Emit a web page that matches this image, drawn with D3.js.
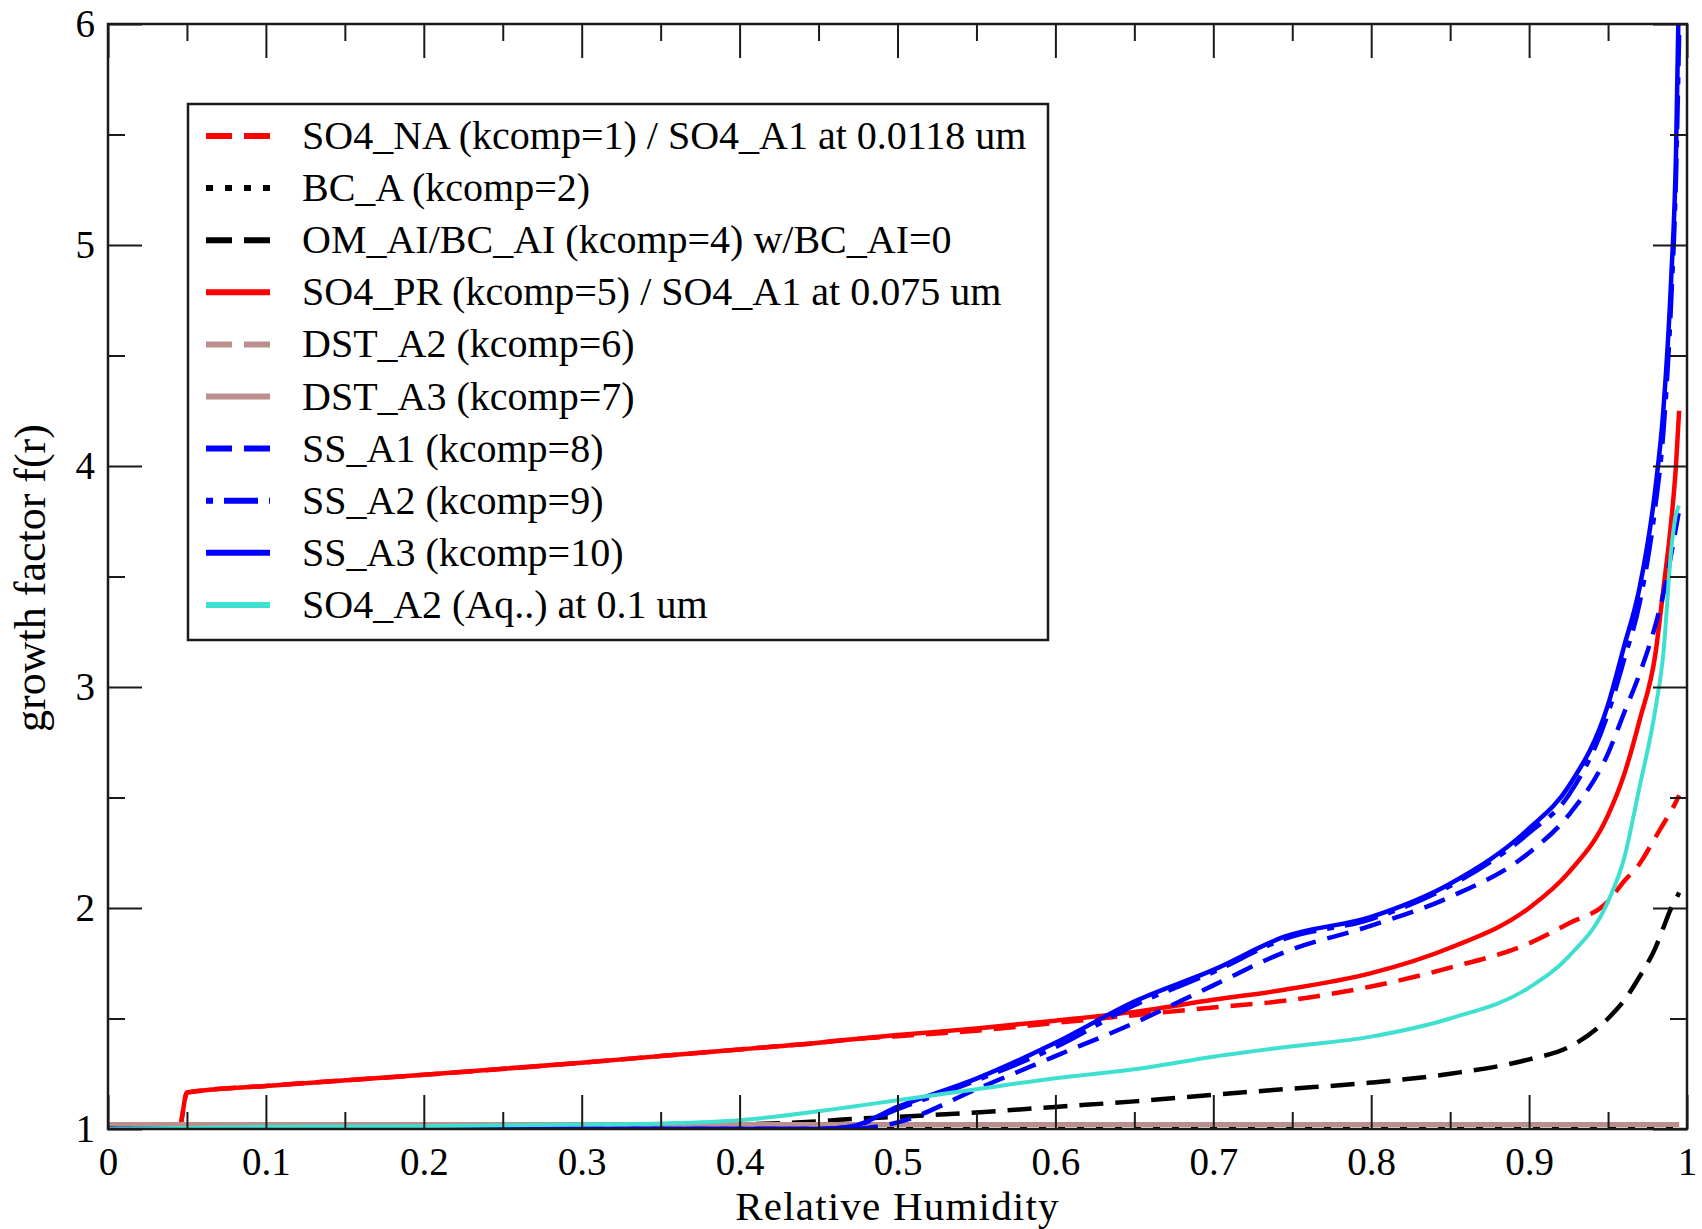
<!DOCTYPE html>
<html>
<head>
<meta charset="utf-8">
<script src="https://cdn.jsdelivr.net/npm/d3@7"></script>
<style>
  html, body { margin: 0; padding: 0; background: #fff; }
  svg { display: block; font-family: "Liberation Serif", "Times New Roman", serif; }
</style>
</head>
<body>
<svg id="chart"></svg>
<script>
// relative humidity grid shared by all sets
const rh = [0, 0.045, 0.05, 0.1, 0.2, 0.3, 0.35, 0.4, 0.45, 0.47, 0.5, 0.55, 0.6, 0.65, 0.7, 0.745,
    0.8, 0.85, 0.9, 0.925, 0.95, 0.96, 0.97, 0.98, 0.985, 0.99, 0.993, 0.995];
// growth factor per component
const so4NA = [1, 1, 1.165, 1.195, 1.245, 1.30, 1.33, 1.36, 1.39, 1.405, 1.42, 1.445, 1.48, 1.515, 1.55, 1.58,
    1.645, 1.73, 1.84, 1.93, 2.03, 2.12, 2.2, 2.32, 2.38, 2.44, 2.48, 2.51];
const bcA = [1, 1, 1, 1, 1, 1, 1, 1, 1, 1, 1, 1, 1, 1, 1, 1,
    1, 1, 1, 1, 1, 1, 1, 1, 1, 1, 1, 1];
const omAI = [1, 1, 1, 1, 1, 1.005, 1.01, 1.02, 1.035, 1.045, 1.055, 1.075, 1.10, 1.125, 1.155, 1.18,
    1.21, 1.25, 1.315, 1.37, 1.50, 1.58, 1.69, 1.82, 1.91, 2.0, 2.04, 2.07];
const so4PR = [1, 1, 1.165, 1.195, 1.245, 1.30, 1.33, 1.36, 1.39, 1.405, 1.425, 1.455, 1.49, 1.53, 1.585, 1.63,
    1.705, 1.82, 2.0, 2.16, 2.42, 2.6, 2.85, 3.15, 3.44, 3.75, 4.0, 4.25];
const dstA2 = [1.02, 1.02, 1.02, 1.02, 1.02, 1.02, 1.02, 1.02, 1.02, 1.02, 1.02, 1.02, 1.02, 1.02, 1.02, 1.02,
    1.02, 1.02, 1.02, 1.02, 1.02, 1.02, 1.02, 1.02, 1.02, 1.02, 1.02, 1.02];
const dstA3 = [1.02, 1.02, 1.02, 1.02, 1.02, 1.02, 1.02, 1.02, 1.02, 1.02, 1.02, 1.02, 1.02, 1.02, 1.02, 1.02,
    1.02, 1.02, 1.02, 1.02, 1.02, 1.02, 1.02, 1.02, 1.02, 1.02, 1.02, 1.02];
const ssA1 = [1, 1, 1, 1, 1, 1, 1, 1, 1, 1, 1.03, 1.18, 1.33, 1.48, 1.65, 1.80,
    1.92, 2.05, 2.25, 2.42, 2.7, 2.88, 3.06, 3.28, 3.42, 3.6, 3.72, 3.8];
const ssA2 = [1, 1, 1, 1, 1, 1, 1, 1, 1, 1.01, 1.09, 1.22, 1.37, 1.56, 1.71, 1.86,
    1.95, 2.10, 2.34, 2.51, 2.88, 3.12, 3.38, 3.82, 4.15, 4.75, 5.3, 5.95];
const ssA3 = [1, 1, 1, 1, 1, 1, 1, 1, 1, 1.01, 1.10, 1.228, 1.39, 1.577, 1.72, 1.87,
    1.96, 2.11, 2.36, 2.55, 2.92, 3.18, 3.45, 3.9, 4.25, 4.85, 5.4, 6.2];
const so4A2 = [1.0, 1.005, 1.005, 1.01, 1.013, 1.02, 1.025, 1.04, 1.08, 1.10, 1.13, 1.18, 1.23, 1.27, 1.327, 1.37,
    1.418, 1.50, 1.64, 1.78, 2.03, 2.22, 2.55, 2.9, 3.15, 3.62, 3.78, 3.82];

const labels = [
    "SO4_NA (kcomp=1) / SO4_A1 at 0.0118 um",
    "BC_A (kcomp=2)",
    "OM_AI/BC_AI (kcomp=4) w/BC_AI=0",
    "SO4_PR (kcomp=5) / SO4_A1 at 0.075 um",
    "DST_A2 (kcomp=6)",
    "DST_A3 (kcomp=7)",
    "SS_A1 (kcomp=8)",
    "SS_A2 (kcomp=9)",
    "SS_A3 (kcomp=10)",
    "SO4_A2 (Aq..) at 0.1 um"
];
const values = [so4NA, bcA, omAI, so4PR, dstA2, dstA3, ssA1, ssA2, ssA3, so4A2];
const colors = ["#ff0000", "#000000", "#000000", "#ff0000", "#bc8f8f", "#bc8f8f",
    "#0000ff", "#0000ff", "#0000ff", "#40e0d0"];
const dashes = ["22,12", "7,12", "24,12", null, "22,12", null, "22,12", "7,11,34,11", null, null];
const legendDashes = ["26,12", "7,12", "26,12", null, "26,12", null, "26,12", "7,11,34,11", null, null];
const widths = [4.5, 4.5, 4.5, 4.5, 5, 5, 4.5, 4.5, 4.5, 4];

const W = 1702, H = 1229;
const plot = {left: 108, right: 1687, top: 24, bottom: 1129};
const svg = d3.select("#chart").attr("width", W).attr("height", H);

const x = d3.scaleLinear().domain([0, 1]).range([plot.left, plot.right]);
const y = d3.scaleLinear().domain([1, 6]).range([plot.bottom, plot.top]);

const majorLen = 34, minorLen = 17;
const xMajor = d3.range(0, 11).map(d => d / 10);
const xMinor = d3.range(0, 10).map(d => d / 10 + 0.05);
const yMajor = [1, 2, 3, 4, 5, 6];
const yMinor = [1.5, 2.5, 3.5, 4.5, 5.5];
const axisColor = "#1a1a1a";

// curves (clipped to the frame)
svg.append("clipPath").attr("id", "clip")
    .append("rect")
    .attr("x", plot.left).attr("y", plot.top)
    .attr("width", plot.right - plot.left).attr("height", plot.bottom - plot.top - 1);

const line = d3.line()
    .x(d => x(d[0]))
    .y(d => y(d[1]))
    .curve(d3.curveMonotoneX);

const curveGroup = svg.append("g").attr("clip-path", "url(#clip)");
values.forEach((vals, i) => {
    curveGroup.append("path")
        .attr("d", line(rh.map((r, j) => [r, vals[j]])))
        .attr("fill", "none")
        .attr("stroke", colors[i])
        .attr("stroke-width", widths[i])
        .attr("stroke-dasharray", dashes[i])
        .attr("stroke-linejoin", "round");
});

// frame with inward ticks on all four sides
const styleAxis = g => {
    g.select(".domain").remove();
    g.selectAll(".tick line").attr("stroke", axisColor).attr("stroke-width", 2);
    g.selectAll("text").attr("fill", "#000").attr("font-size", 39)
        .attr("font-family", "Liberation Serif, Times New Roman, serif");
};
const fmt = d => d === 0 || d === 1 ? String(d) : d3.format(".1f")(d);

svg.append("g").attr("transform", `translate(0,${plot.bottom})`)
    .call(d3.axisBottom(x).tickValues(xMajor).tickFormat(fmt).tickSize(-majorLen).tickPadding(18))
    .call(styleAxis);
svg.append("g").attr("transform", `translate(0,${plot.bottom})`)
    .call(d3.axisBottom(x).tickValues(xMinor).tickFormat("").tickSize(-minorLen))
    .call(styleAxis);
svg.append("g").attr("transform", `translate(0,${plot.top})`)
    .call(d3.axisTop(x).tickValues(xMajor).tickFormat("").tickSize(-majorLen))
    .call(styleAxis);
svg.append("g").attr("transform", `translate(0,${plot.top})`)
    .call(d3.axisTop(x).tickValues(xMinor).tickFormat("").tickSize(-minorLen))
    .call(styleAxis);
svg.append("g").attr("transform", `translate(${plot.left},0)`)
    .call(d3.axisLeft(y).tickValues(yMajor).tickFormat(d3.format("d")).tickSize(-majorLen).tickPadding(13))
    .call(styleAxis);
svg.append("g").attr("transform", `translate(${plot.left},0)`)
    .call(d3.axisLeft(y).tickValues(yMinor).tickFormat("").tickSize(-minorLen))
    .call(styleAxis);
svg.append("g").attr("transform", `translate(${plot.right},0)`)
    .call(d3.axisRight(y).tickValues(yMajor).tickFormat("").tickSize(-majorLen))
    .call(styleAxis);
svg.append("g").attr("transform", `translate(${plot.right},0)`)
    .call(d3.axisRight(y).tickValues(yMinor).tickFormat("").tickSize(-minorLen))
    .call(styleAxis);

svg.append("rect")
    .attr("x", plot.left).attr("y", plot.top)
    .attr("width", plot.right - plot.left).attr("height", plot.bottom - plot.top)
    .attr("fill", "none").attr("stroke", axisColor).attr("stroke-width", 2.5);

// axis titles
svg.append("text")
    .attr("x", (plot.left + plot.right) / 2).attr("y", 1220)
    .attr("text-anchor", "middle").attr("font-size", 41)
    .attr("letter-spacing", 1.2)
    .text("Relative Humidity");
svg.append("text")
    .attr("transform", "translate(45,578) rotate(-90)")
    .attr("text-anchor", "middle").attr("font-size", 44)
    .text("growth factor f(r)");

// legend
const legend = {left: 188, top: 104, right: 1048, bottom: 640, row0: 136, step: 52.1};
svg.append("rect")
    .attr("x", legend.left).attr("y", legend.top)
    .attr("width", legend.right - legend.left).attr("height", legend.bottom - legend.top)
    .attr("fill", "#fff").attr("stroke", axisColor).attr("stroke-width", 2.5);

const items = svg.append("g").selectAll("g")
    .data(labels)
    .enter()
    .append("g")
    .attr("transform", (d, i) => `translate(0,${legend.row0 + i * legend.step})`);
items.append("line")
    .attr("x1", 206).attr("x2", 270)
    .attr("stroke", (d, i) => colors[i])
    .attr("stroke-width", 6)
    .attr("stroke-dasharray", (d, i) => legendDashes[i]);
items.append("text")
    .attr("x", 302).attr("y", 13)
    .attr("font-size", 40)
    .text(d => d);
</script>
</body>
</html>
